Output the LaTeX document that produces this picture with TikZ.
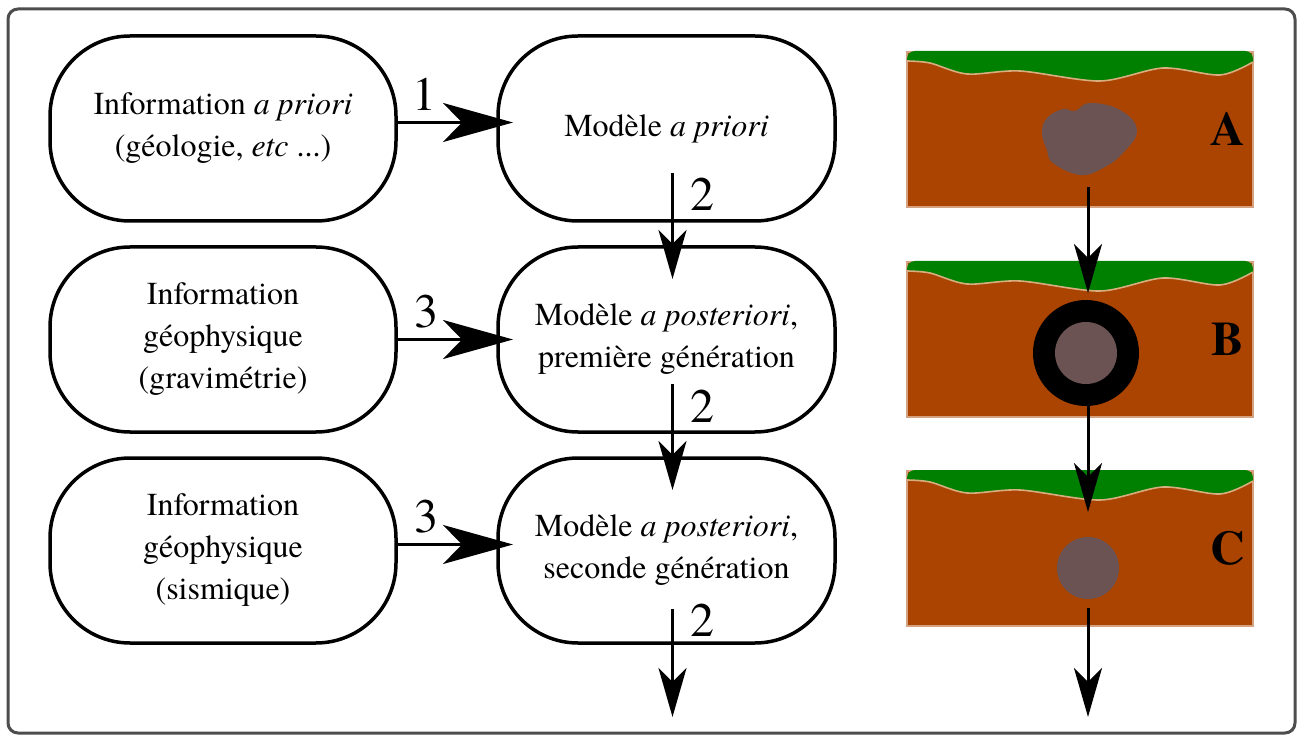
\documentclass[tikz,border=0pt]{standalone}
\usepackage{fontspec}
\setmainfont{texgyretermes}[Extension=.otf, UprightFont=*-regular, ItalicFont=*-italic, BoldFont=*-bold]
\usetikzlibrary{positioning}
\usetikzlibrary{arrows.meta}

\definecolor{sol}{HTML}{AA4400}
\definecolor{herbe}{HTML}{008000}
\definecolor{roche}{HTML}{6C5353}
\definecolor{liseret}{HTML}{D8AE80}
\definecolor{cadre}{HTML}{4D4D4D}

\newcommand{\terrain}[2]{%
  \begin{scope}[shift={(0,#1)}]
    \fill[sol, draw=sol!50!white, line width=0.75pt] (907,52) rectangle (1253,207);
    \fill[herbe] (907,61) [rounded corners=4pt] -- (907,51) -- (1253,51) -- (1253,62) [sharp corners]
      -- plot[smooth] coordinates {(1253,62) (1220,75) (1163,68) (1100,81) (1020,71) (967,74) (930,63) (907,61)} -- cycle;
    \draw[liseret, line width=0.8pt] plot[smooth] coordinates {(1253,62) (1220,75) (1163,68) (1100,81) (1020,71) (967,74) (930,63) (907,61)};
    \node[lettre] at (1228,129) {#2};
  \end{scope}}

\begin{document}
\begin{tikzpicture}[x=0.5pt, y=-0.5pt, node distance=13pt and 51pt,
    boite/.style={draw, line width=1.75pt, rounded corners=40pt, minimum height=92.5pt,
      outer sep=0pt, inner sep=2pt, align=center, font=\fontsize{16}{21}\selectfont},
    info/.style={boite, minimum width=173pt},
    modele/.style={boite, minimum width=168.5pt},
    num/.style={inner sep=0pt, font=\fontsize{24}{28}\selectfont},
    lettre/.style={inner sep=0pt, font=\fontsize{24}{28}\selectfont\bfseries},
    grande/.style={line width=1.5pt, -{Stealth[length=35pt, width=19.5pt, inset=9.5pt]}},
    petite/.style={line width=1.5pt, -{Stealth[length=24.5pt, width=14pt, inset=7pt]}}]
  \useasboundingbox (0,0) rectangle (1298,738);
  \draw[cadre, line width=1.5pt, rounded corners=5pt] (8,9) rectangle (1295,733);

  \node[info] (info1) at (223,128.5) {Information \emph{a priori}\\(géologie, \emph{etc} ...)};
  \node[info, below=of info1] (info2) {Information\\géophysique\\(gravimétrie)};
  \node[info, below=of info2] (info3) {Information\\géophysique\\(sismique)};

  \node[modele, right=of info1] (mod1) {Modèle \emph{a priori}};
  \node[modele, right=of info2] (mod2) {Modèle \emph{a posteriori},\\première génération};
  \node[modele, right=of info3] (mod3) {Modèle \emph{a posteriori},\\seconde génération};
  \coordinate (suite) at ([xshift=3pt,yshift=-37pt]mod3.south);

  \draw[grande] ([yshift=3pt]info1.east) -- node[num, pos=0.24, above=5pt] {1} ([xshift=7.5pt,yshift=3pt]mod1.west);
  \draw[grande] (info2.east) -- node[num, pos=0.26, above=5pt] {3} ([xshift=7.5pt]mod2.west);
  \draw[grande] ([yshift=3pt]info3.east) -- node[num, pos=0.26, above=5pt] {3} ([xshift=7.5pt,yshift=3pt]mod3.west);

  \draw[petite] ([xshift=3pt,yshift=24pt]mod1.south) -- node[num, pos=0.2, right=8pt] {2} ([xshift=3pt,yshift=-16pt]mod2.north);
  \draw[petite] ([xshift=3pt,yshift=24pt]mod2.south) -- node[num, pos=0.21, right=8pt] {2} ([xshift=3pt,yshift=-16pt]mod3.north);
  \draw[petite] ([xshift=3pt,yshift=17pt]mod3.south) -- node[num, pos=0.1, right=8pt] {2} (suite);

  \terrain{0}{A}
  \terrain{210}{B}
  \terrain{419}{C}

  \fill[roche] plot[smooth cycle, tension=0.7] coordinates {(1063,109) (1075,111) (1090,103) (1120,110)
    (1137,130) (1123,153) (1103,168) (1080,175) (1053,163) (1047,150) (1042,133) (1047,118)};
  \fill (1086,353) circle[radius=53];
  \fill[roche] (1086,353) circle[radius=31];
  \fill[roche] (1088,568) circle[radius=31];

  \coordinate (sA) at (1088,187);
  \coordinate (nB) at (1088,293);
  \coordinate (sB) at (1088,405);
  \coordinate (nC) at (1088,512);
  \coordinate (sC) at (1088,608);
  \coordinate (fin) at (1088,717);
  \draw[petite] (sA) -- (nB);
  \draw[petite] (sB) -- (nC);
  \draw[petite] (sC) -- (fin);
\end{tikzpicture}
\end{document}
